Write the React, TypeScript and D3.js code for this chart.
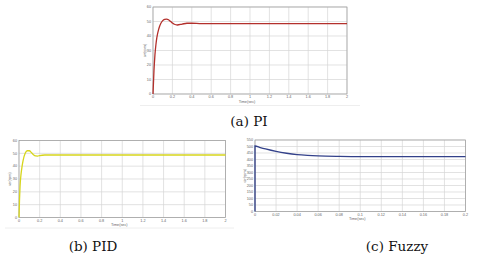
import * as d3 from "d3";

// (a) PI response, speed in rpm over time in s
const piTime = [0, 0.01, 0.02, 0.03, 0.04, 0.06, 0.08, 0.1, 0.12, 0.14, 0.16, 0.18, 0.2, 0.22, 0.25, 0.3, 0.35, 0.4, 0.5, 2];
const piSpeed = [0, 16, 27, 34, 39, 45, 48.6, 50.6, 51.5, 51.7, 51.2, 50.1, 48.9, 48.1, 47.6, 48.2, 48.8, 48.8, 48.5, 48.5];

// (b) PID response
const pidTime = [0, 0.005, 0.01, 0.02, 0.03, 0.04, 0.06, 0.08, 0.1, 0.12, 0.14, 0.16, 0.18, 0.2, 0.25, 2];
const pidSpeed = [0, 14, 24, 34, 40, 44.5, 50, 52, 52, 50.6, 48.9, 48, 47.9, 48.3, 48.7, 48.7];

// (c) Fuzzy response
const fuzzyTime = [0, 0, 0.005, 0.01, 0.02, 0.03, 0.04, 0.05, 0.06, 0.08, 0.1, 0.2];
const fuzzySpeed = [0, 504, 492, 481, 462, 448, 438, 432, 428, 424, 422, 422];

const slowTicks = [0, 0.2, 0.4, 0.6, 0.8, 1, 1.2, 1.4, 1.6, 1.8, 2];
const fastTicks = [0, 0.02, 0.04, 0.06, 0.08, 0.1, 0.12, 0.14, 0.16, 0.18, 0.2];
const rpmTicks = [0, 10, 20, 30, 40, 50, 60];
const fuzzyRpmTicks = [0, 50, 100, 150, 200, 250, 300, 350, 400, 450, 500, 550];

const captions = ["(a) PI", "(b) PID", "(c) Fuzzy"];

type PanelProps = {
  box: { left: number; right: number; top: number; bottom: number };
  xTicks: number[];
  yTicks: number[];
  time: number[];
  speed: number[];
  color: string;
  yLabelX: number;
};

function Panel({ box, xTicks, yTicks, time, speed, color, yLabelX }: PanelProps) {
  const x = d3
    .scaleLinear()
    .domain([xTicks[0], xTicks[xTicks.length - 1]])
    .range([box.left, box.right]);
  const y = d3
    .scaleLinear()
    .domain([yTicks[0], yTicks[yTicks.length - 1]])
    .range([box.bottom, box.top]);
  const pts = time.map((t, i) => [t, speed[i]] as [number, number]);
  const line = d3
    .line<[number, number]>()
    .x((d) => x(d[0]))
    .y((d) => y(d[1]))
    .curve(d3.curveMonotoneX);
  const fmt = (v: number) => String(+v.toFixed(2));
  const midX = (box.left + box.right) / 2;
  const midY = (box.top + box.bottom) / 2;

  return (
    <g fontFamily="Liberation Sans, Arial, sans-serif" fontSize={3.8} fill="#666">
      <rect x={box.left} y={box.top} width={box.right - box.left} height={box.bottom - box.top} fill="#fff" />
      {xTicks.map((t) => (
        <line key={"gx" + t} x1={x(t)} x2={x(t)} y1={box.top} y2={box.bottom} stroke="#d6d6d6" strokeWidth={0.7} />
      ))}
      {yTicks.map((t) => (
        <line key={"gy" + t} x1={box.left} x2={box.right} y1={y(t)} y2={y(t)} stroke="#d6d6d6" strokeWidth={0.7} />
      ))}
      <rect
        x={box.left}
        y={box.top}
        width={box.right - box.left}
        height={box.bottom - box.top}
        fill="none"
        stroke="#9a9a9a"
        strokeWidth={0.7}
      />
      {xTicks.map((t) => (
        <text key={"tx" + t} x={x(t)} y={box.bottom + 4.2} textAnchor="middle">
          {fmt(t)}
        </text>
      ))}
      {yTicks.map((t) => (
        <text key={"ty" + t} x={box.left - 2} y={y(t) + 1.3} textAnchor="end">
          {t}
        </text>
      ))}
      <text x={midX - 3} y={box.bottom + 8.6} textAnchor="middle">
        Time(sec)
      </text>
      <text transform={`translate(${yLabelX},${midY}) rotate(-90)`} textAnchor="middle">
        ωr(rpm)
      </text>
      <path d={line(pts) || ""} fill="none" stroke={color} strokeWidth={1.3} />
    </g>
  );
}

export default function App() {
  return (
    <svg
      width={480}
      height={260}
      style={{ position: "absolute", left: 0, top: 0, background: "#fff" }}
    >
      <rect width={480} height={260} fill="#fff" />
      <line x1={140} x2={360} y1={105.5} y2={105.5} stroke="#eeeeee" strokeWidth={1} />
      <line x1={5} x2={234} y1={228} y2={228} stroke="#eeeeee" strokeWidth={1} />
      <Panel
        box={{ left: 153, right: 347, top: 7, bottom: 94 }}
        xTicks={slowTicks}
        yTicks={rpmTicks}
        time={piTime}
        speed={piSpeed}
        color="#b3302c"
        yLabelX={146}
      />
      <Panel
        box={{ left: 19, right: 225.5, top: 140.5, bottom: 217.5 }}
        xTicks={slowTicks}
        yTicks={rpmTicks}
        time={pidTime}
        speed={pidSpeed}
        color="#d6d51c"
        yLabelX={11}
      />
      <Panel
        box={{ left: 255, right: 465.5, top: 140, bottom: 211.5 }}
        xTicks={fastTicks}
        yTicks={fuzzyRpmTicks}
        time={fuzzyTime}
        speed={fuzzySpeed}
        color="#33418a"
        yLabelX={246}
      />
      <g fontFamily="DejaVu Serif, serif" fontSize={13.5} fill="#111" textAnchor="middle">
        <text x={249} y={126}>{captions[0]}</text>
        <text x={93} y={251}>{captions[1]}</text>
        <text x={397} y={251}>{captions[2]}</text>
      </g>
    </svg>
  );
}
